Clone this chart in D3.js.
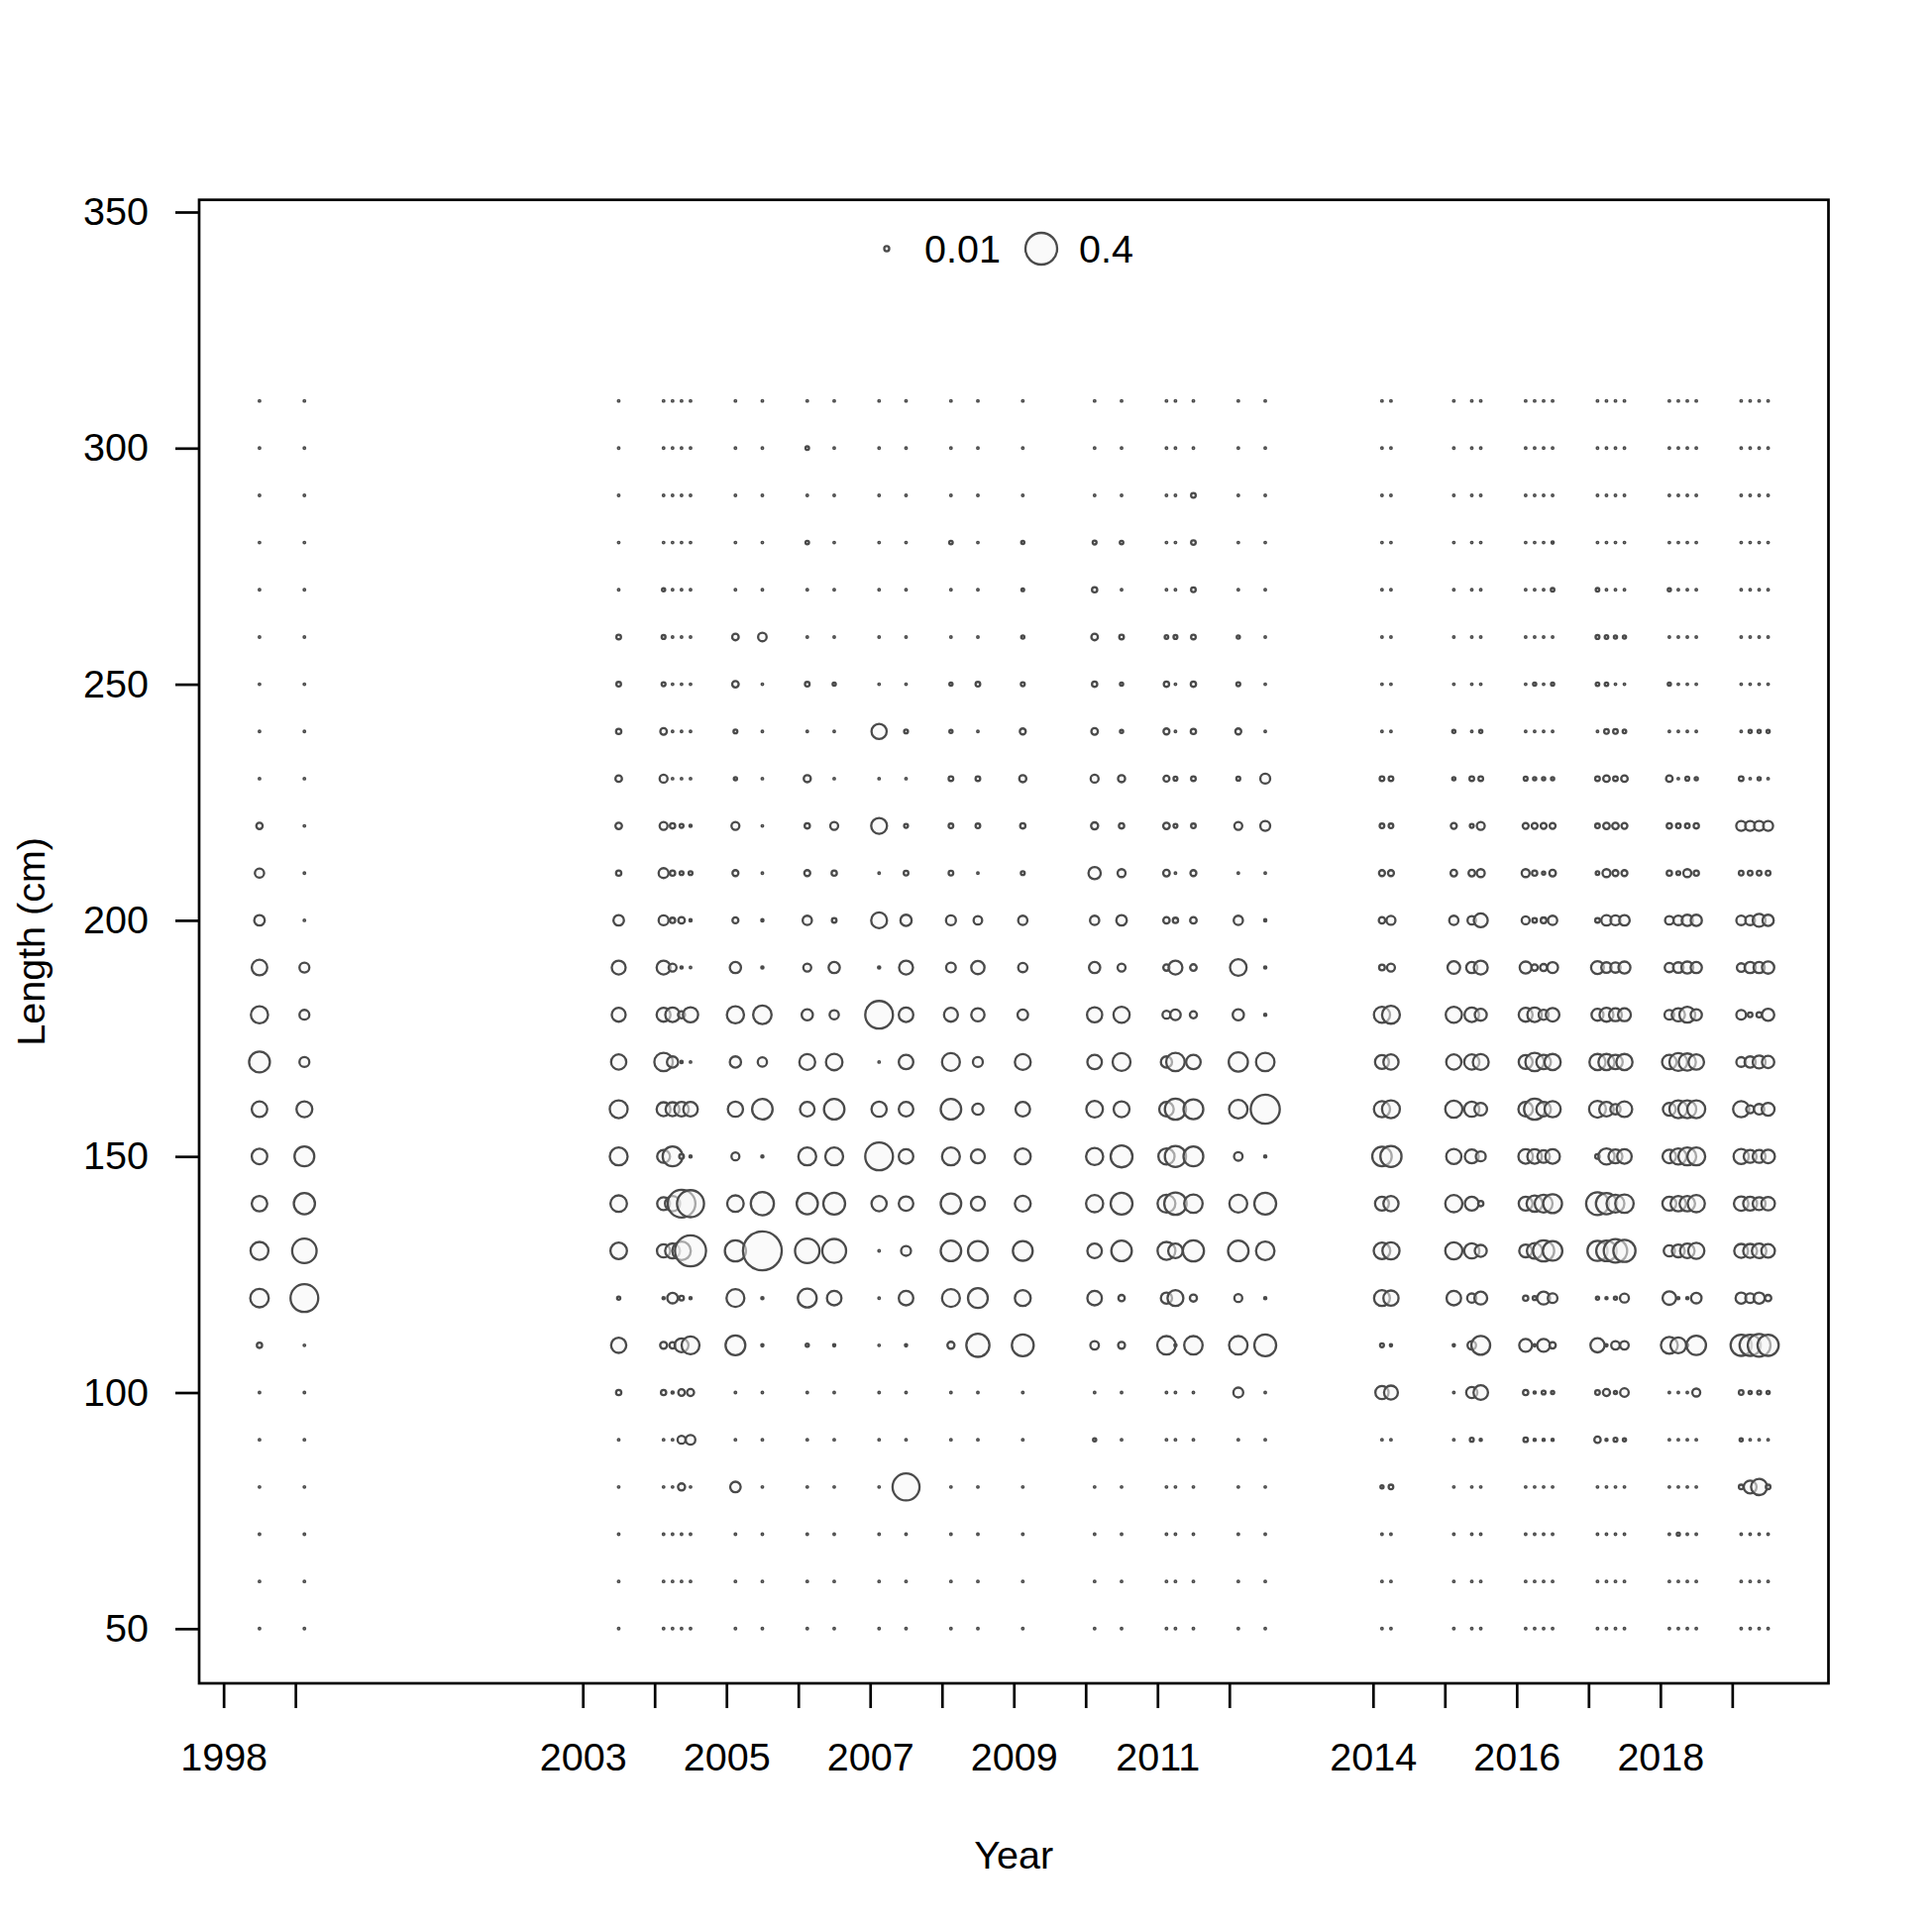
<!DOCTYPE html>
<html>
<head>
<meta charset="utf-8">
<script src="https://cdn.jsdelivr.net/npm/d3@7"></script>
<style>
  html, body { margin: 0; padding: 0; background: #fff; }
  text { font-family: "Liberation Sans", Arial, sans-serif; }
</style>
</head>
<body>
<svg id="chart" width="1950" height="1950"></svg>
<script>
// ---------------- DATA ----------------
// Length bins (cm), bottom to top
const lengthBins = [50,60,70,80,90,100,110,120,130,140,150,160,170,180,190,200,210,220,230,240,250,260,270,280,290,300,310];

// Sample times (year + fraction of year)
const sampleTimes = [
  1998.5, 1999.125, 2003.5,
  2004.125, 2004.25, 2004.375, 2004.5,
  2005.125, 2005.5, 2006.125, 2006.5, 2007.125, 2007.5, 2008.125, 2008.5,
  2009.125, 2010.125, 2010.5,
  2011.125, 2011.25, 2011.5, 2012.125, 2012.5,
  2014.125, 2014.25, 2015.125, 2015.375, 2015.5,
  2016.125, 2016.25, 2016.375, 2016.5,
  2017.125, 2017.25, 2017.375, 2017.5,
  2018.125, 2018.25, 2018.375, 2018.5,
  2019.125, 2019.25, 2019.375, 2019.5
];

// Observed proportion at length: one array per sample time, values in lengthBins order
const proportions = [
  /*1998.5*/  [.001,.001,.001,.001,.001, .001,.011,.136,.127,.096, .096,.096,.172,.117,.096, .044,.034,.016,.001,.001, .001,.001,.001,.001,.001, .001,.001],
  /*1999.125*/[.001,.001,.001,.001,.001, .001,.001,.306,.238,.178, .156,.100,.039,.039,.039, .001,.001,.001,.001,.001, .001,.001,.001,.001,.001, .001,.001],
  /*2003.5*/  [.001,.001,.001,.001,.001, .011,.092,.004,.109,.109, .127,.127,.092,.077,.077, .044,.011,.017,.017,.011, .0085,.0085,.001,.001,.001, .001,.001],
  /*2004.125*/[.001,.001,.001,.001,.001, .011,.019,.002,.070,.066, .066,.077,.136,.077,.077, .039,.039,.025,.025,.017, .006,.006,.004,.001,.001, .001,.001],
  /*2004.25*/ [.001,.001,.001,.001,.001, .002,.016,.044,.088,.092, .156,.077,.050,.084,.025, .011,.011,.011,.001,.001, .001,.001,.001,.001,.001, .001,.001],
  /*2004.375*/[.001,.001,.001,.020,.025, .017,.077,.0085,.136,.306, .0085,.084,.002,.020,.002, .017,.006,.006,.001,.001, .001,.001,.001,.001,.001, .001,.001],
  /*2004.5*/  [.001,.001,.001,.001,.037, .020,.127,.002,.384,.290, .002,.084,.001,.092,.001, .002,.006,.002,.001,.001, .001,.001,.001,.001,.001, .001,.001],
  /*2005.125*/[.001,.001,.001,.044,.001, .001,.156,.127,.178,.109, .025,.092,.050,.117,.050, .014,.014,.025,.004,.006, .017,.017,.001,.001,.001, .001,.001],
  /*2005.5*/  [.001,.001,.001,.001,.001, .001,.002,.002,.600,.213, .002,.167,.034,.136,.002, .002,.001,.001,.001,.001, .001,.029,.001,.001,.001, .001,.001],
  /*2006.125*/[.001,.001,.001,.001,.001, .001,.004,.141,.238,.178, .127,.084,.100,.050,.025, .034,.014,.011,.020,.001, .0085,.001,.001,.005,.001, .005,.001],
  /*2006.5*/  [.001,.001,.001,.001,.001, .001,.002,.084,.226,.190, .127,.167,.109,.034,.050, .0085,.011,.025,.001,.001, .004,.001,.001,.001,.001, .001,.001],
  /*2007.125*/[.001,.001,.001,.001,.001, .001,.001,.001,.001,.092, .306,.092,.001,.306,.002, .100,.001,.100,.001,.092, .001,.001,.001,.001,.001, .001,.001],
  /*2007.5*/  [.001,.001,.001,.290,.001, .001,.002,.084,.039,.084, .084,.084,.084,.084,.077, .050,.0085,.006,.001,.006, .001,.001,.001,.001,.001, .001,.001],
  /*2008.125*/[.001,.001,.001,.001,.001, .001,.020,.127,.167,.167, .127,.167,.127,.077,.037, .039,.0085,.0085,.0085,.004, .004,.001,.001,.005,.001, .001,.001],
  /*2008.5*/  [.001,.001,.001,.001,.001, .001,.213,.156,.156,.077, .077,.050,.039,.070,.070, .029,.001,.0085,.0085,.001, .0085,.001,.001,.001,.001, .001,.001],
  /*2009.125*/[.001,.001,.001,.001,.001, .001,.190,.100,.156,.100, .100,.084,.100,.044,.034, .034,.006,.011,.020,.014, .006,.004,.003,.004,.001, .001,.001],
  /*2010.125*/[.001,.001,.001,.001,.004, .001,.029,.084,.084,.117, .117,.109,.084,.092,.050, .034,.060,.020,.025,.017, .011,.017,.011,.006,.001, .001,.001],
  /*2010.5*/  [.001,.001,.001,.001,.001, .001,.019,.016,.167,.190, .190,.100,.127,.104,.025, .044,.025,.011,.020,.004, .004,.0085,.001,.005,.001, .001,.001],
  /*2011.125*/[.001,.001,.001,.001,.001, .001,.136,.050,.127,.127, .104,.084,.050,.025,.016, .016,.017,.017,.014,.014, .011,.005,.001,.001,.001, .001,.001],
  /*2011.25*/ [.001,.001,.001,.001,.001, .001,.002,.100,.084,.200, .178,.178,.136,.044,.077, .011,.001,.006,.006,.001, .001,.006,.001,.001,.001, .001,.001],
  /*2011.5*/  [.001,.001,.001,.001,.001, .001,.136,.020,.178,.136, .156,.156,.084,.020,.017, .017,.014,.0085,.0085,.011, .011,.0085,.0085,.0085,.0085, .001,.001],
  /*2012.125*/[.001,.001,.001,.001,.001, .039,.136,.025,.167,.127, .029,.136,.146,.050,.109, .034,.001,.025,.006,.014, .006,.004,.001,.001,.001, .001,.001],
  /*2012.5*/  [.001,.001,.001,.001,.001, .001,.190,.002,.136,.190, .002,.336,.136,.002,.002, .002,.001,.039,.039,.001, .001,.001,.001,.001,.001, .001,.001],
  /*2014.125*/[.001,.001,.001,.004,.001, .070,.006,.100,.109,.077, .151,.104,.077,.104,.013, .016,.014,.0085,.0085,.001, .001,.001,.001,.001,.001, .001,.001],
  /*2014.25*/ [.001,.001,.001,.0085,.001, .077,.002,.092,.117,.092, .178,.127,.092,.127,.025, .032,.014,.0085,.0085,.001, .001,.001,.001,.001,.001, .001,.001],
  /*2015.125*/[.001,.001,.001,.001,.001, .001,.002,.084,.117,.117, .092,.117,.092,.104,.063, .034,.017,.014,.004,.004, .001,.001,.001,.001,.001, .001,.001],
  /*2015.375*/[.001,.001,.001,.001,.006, .050,.029,.034,.092,.077, .077,.092,.092,.084,.050, .029,.017,.006,.0085,.001, .001,.001,.001,.001,.001, .001,.001],
  /*2015.5*/  [.001,.001,.001,.001,.002, .084,.141,.066,.057,.011, .039,.063,.100,.057,.077, .077,.025,.025,.0085,.004, .001,.001,.001,.001,.001, .001,.001],
  /*2016.125*/[.001,.001,.001,.001,.008, .011,.066,.011,.066,.077, .084,.084,.077,.077,.057, .025,.025,.014,.006,.001, .001,.001,.001,.001,.001, .001,.001],
  /*2016.25*/ [.001,.001,.001,.001,.002, .002,.002,.006,.096,.104, .084,.178,.136,.084,.016, .0085,.011,.014,.004,.001, .004,.001,.001,.001,.001, .001,.001],
  /*2016.375*/[.001,.001,.001,.001,.002, .006,.066,.066,.178,.127, .063,.084,.084,.040,.020, .013,.004,.014,.004,.001, .001,.001,.001,.001,.001, .001,.001],
  /*2016.5*/  [.001,.001,.001,.001,.002, .004,.016,.037,.151,.141, .084,.104,.104,.073,.047, .034,.017,.014,.004,.001, .004,.001,.005,.002,.001, .001,.001],
  /*2017.125*/[.001,.001,.001,.001,.016, .0085,.080,.004,.162,.207, .0085,.113,.104,.057,.066, .0085,.005,.0085,.0085,.001, .005,.006,.005,.001,.001, .001,.001],
  /*2017.25*/ [.001,.001,.001,.001,.002, .020,.002,.002,.167,.178, .104,.084,.104,.077,.044, .042,.025,.017,.017,.0085, .005,.005,.001,.001,.001, .001,.001],
  /*2017.375*/[.001,.001,.001,.001,.006, .004,.029,.004,.218,.127, .077,.042,.084,.066,.042, .039,.014,.017,.0085,.0085, .001,.004,.001,.001,.001, .001,.001],
  /*2017.5*/  [.001,.001,.001,.001,.004, .029,.029,.032,.195,.136, .084,.096,.104,.066,.057, .044,.014,.014,.017,.005, .001,.004,.001,.001,.001, .001,.001],
  /*2018.125*/[.001,.001,.001,.001,.001, .001,.113,.073,.050,.077, .073,.066,.084,.037,.034, .029,.011,.011,.017,.001, .004,.001,.004,.001,.001, .001,.001],
  /*2018.25*/ [.001,.001,.004,.001,.001, .001,.100,.002,.066,.096, .104,.127,.127,.070,.044, .037,.006,.0085,.001,.001, .001,.001,.001,.001,.001, .001,.001],
  /*2018.375*/[.001,.001,.001,.001,.001, .001,.002,.002,.084,.096, .127,.127,.117,.100,.057, .050,.025,.0085,.006,.001, .001,.001,.001,.001,.001, .001,.001],
  /*2018.5*/  [.001,.001,.001,.001,.001, .025,.150,.044,.104,.117, .127,.127,.096,.050,.050, .050,.011,.011,.004,.001, .001,.001,.001,.001,.001, .001,.001],
  /*2019.125*/[.001,.001,.001,.0085,.004, .0085,.178,.050,.077,.084, .092,.104,.037,.037,.029, .037,.0085,.039,.0085,.001, .001,.001,.001,.001,.001, .001,.001],
  /*2019.25*/ [.001,.001,.001,.066,.001, .004,.178,.037,.077,.077, .066,.025,.050,.0085,.050, .037,.0085,.039,.001,.004, .001,.001,.001,.001,.001, .001,.001],
  /*2019.375*/[.001,.001,.001,.104,.001, .006,.207,.050,.084,.066, .066,.044,.066,.011,.050, .066,.0085,.039,.004,.004, .001,.001,.001,.001,.001, .001,.001],
  /*2019.5*/  [.001,.001,.001,.0085,.001, .004,.178,.016,.073,.073, .073,.066,.060,.060,.060, .050,.0085,.039,.001,.004, .001,.001,.001,.001,.001, .001,.001]
];

// Axis ticks and labels
const yTicks = [50,100,150,200,250,300,350];
const xTicks = [1998,1999,2003,2004,2005,2006,2007,2008,2009,2010,2011,2012,2014,2015,2016,2017,2018,2019];
const xTickLabels = [1998,2003,2005,2007,2009,2011,2014,2016,2018];
const legendValues = [0.01, 0.4];
const xTitle = "Year";
const yTitle = "Length (cm)";

// ---------------- DRAW ----------------
(function () {
  const svg = d3.select("#chart");
  svg.append("rect").attr("width",1950).attr("height",1950).attr("fill","#fff");

  const pLeft = 201, pRight = 1845.5, pTop = 201.7, pBottom = 1699;
  const x = d3.scaleLinear().domain([1997.66, 2020.34]).range([pLeft, pRight]);
  const y = d3.scaleLinear().domain([38.42, 352.58]).range([pBottom, pTop]);
  const r = d3.scaleSqrt().domain([0, 0.4]).range([0, 16]);

  const fontSize = 39.5;
  const lineW = 2.7;
  const bubbleFill = "rgba(246,246,246,0.55)";
  const bubbleStroke = "#4a4a4a";
  const bubbleW = 2.3;

  // bubbles
  const bubbleG = svg.append("g");
  proportions.forEach((col, i) => {
    col.forEach((v, j) => {
      bubbleG.append("circle")
        .attr("cx", x(sampleTimes[i]))
        .attr("cy", y(lengthBins[j]))
        .attr("r", r(v))
        .attr("fill", bubbleFill)
        .attr("stroke", bubbleStroke)
        .attr("stroke-width", bubbleW);
    });
  });

  // y axis
  const yAxis = svg.append("g").attr("transform", `translate(${pLeft},0)`)
    .call(d3.axisLeft(y).tickValues(yTicks).tickSize(24).tickPadding(27).tickFormat(d3.format("d")));
  yAxis.select(".domain").remove();
  yAxis.selectAll("line").attr("stroke","#000").attr("stroke-width",lineW);
  yAxis.selectAll("text").attr("font-size",fontSize).attr("fill","#000")
    .attr("font-family","Liberation Sans, Arial, sans-serif");

  // x axis
  const xAxis = svg.append("g").attr("transform", `translate(0,${pBottom})`)
    .call(d3.axisBottom(x).tickValues(xTicks).tickSize(25).tickPadding(35)
      .tickFormat(d => xTickLabels.includes(d) ? String(d) : ""));
  xAxis.select(".domain").remove();
  xAxis.selectAll("line").attr("stroke","#000").attr("stroke-width",lineW);
  xAxis.selectAll("text").attr("font-size",fontSize).attr("fill","#000")
    .attr("font-family","Liberation Sans, Arial, sans-serif");

  // box
  svg.append("rect").attr("x",pLeft).attr("y",pTop)
    .attr("width",pRight-pLeft).attr("height",pBottom-pTop)
    .attr("fill","none").attr("stroke","#000").attr("stroke-width",lineW);

  // titles
  svg.append("text").attr("x",(pLeft+pRight)/2).attr("y",1872).attr("dy","0.35em")
    .attr("text-anchor","middle").attr("font-size",fontSize).text(xTitle);
  svg.append("text").attr("transform",`translate(31,${(pTop+pBottom)/2}) rotate(-90)`)
    .attr("dy","0.35em").attr("text-anchor","middle").attr("font-size",fontSize).text(yTitle);

  // legend
  const legY = 251;
  const legX = [895, 1051];
  legendValues.forEach((v, i) => {
    svg.append("circle").attr("cx",legX[i]).attr("cy",legY).attr("r",r(v))
      .attr("fill",bubbleFill).attr("stroke",bubbleStroke).attr("stroke-width",bubbleW);
    svg.append("text").attr("x",legX[i] + 38).attr("y",legY).attr("dy","0.35em")
      .attr("font-size",fontSize).text(String(v));
  });
})();
</script>
</body>
</html>
